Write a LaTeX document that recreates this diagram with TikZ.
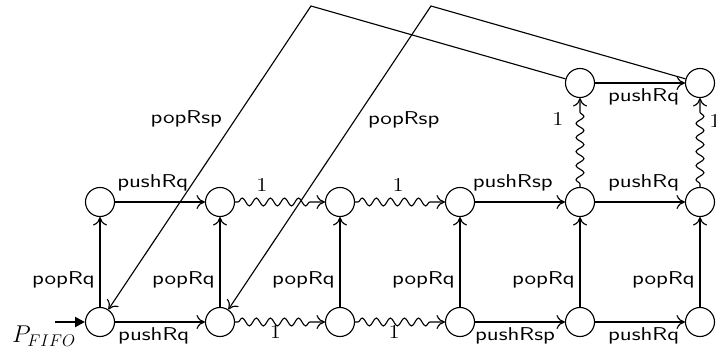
\documentclass[tikz,border=0pt]{standalone}
\usepackage{fontspec}
\usepackage{graphicx}
\usetikzlibrary{arrows.meta,decorations.pathmorphing}
\newcommand{\widetxt}[1]{\scalebox{1.27}[1]{#1}}
\newcommand{\wideone}{\scalebox{1.15}[1]{1}}
\begin{document}
\begin{tikzpicture}[x=0.025cm,y=-0.025cm,
  st/.style={circle,draw,line width=0.8pt,minimum size=0.725cm,inner sep=0pt},
  lab/.style={font=\fontsize{13.2}{15}\sffamily},
  one/.style={font=\fontsize{14}{16}\selectfont},
  e/.style={draw,line width=0.8pt,-{To[length=6pt,width=10pt]}},
  wavy/.style={e,decorate,decoration={snake,amplitude=2.8pt,segment length=10pt,pre length=2pt,post length=7pt}},
  entry/.style={draw,line width=1.6pt,-{Triangle[length=7pt,width=7pt]}}]
\useasboundingbox (0,0) rectangle (716,354);
\foreach \i/\x in {1/100,2/220,3/340,4/460,5/580,6/700}{
  \node[st] (b\i) at (\x,322) {};
  \node[st] (t\i) at (\x,202) {};
}
\node[st] (u5) at (580,83) {};
\node[st] (u6) at (700,83) {};
\coordinate (k1) at (311,6);
\coordinate (k2) at (431,6);
\coordinate (pin) at (55,322);
\node[font=\fontsize{18}{20}\selectfont,inner sep=0pt] (pf) at (44,336) {$P_{FIFO}$};
\foreach \i in {1,...,6}{
  \draw[e] (b\i) -- node[lab,pos=0.3,left]{\widetxt{popRq}} (t\i);
}
\draw[e] (t1) -- node[lab,pos=0.42,above=4pt]{\widetxt{pushRq}} (t2);
\draw[e] (b1) -- node[lab,pos=0.43,below]{\widetxt{pushRq}} (b2);
\draw[wavy] (t2) -- node[one,pos=0.3,above=3.5pt]{\wideone} (t3);
\draw[wavy] (t3) -- node[one,pos=0.48,above=3.5pt]{\wideone} (t4);
\draw[wavy] (b2) -- node[one,pos=0.45,below=-1pt]{\wideone} (b3);
\draw[wavy] (b3) -- node[one,pos=0.435,below=-1pt]{\wideone} (b4);
\draw[e] (t4) -- node[lab,pos=0.42,above=4pt]{\widetxt{pushRsp}} (t5);
\draw[e] (b4) -- node[lab,pos=0.445,below]{\widetxt{pushRsp}} (b5);
\draw[e] (t5) -- node[lab,pos=0.54,above=4pt]{\widetxt{pushRq}} (t6);
\draw[e] (b5) -- node[lab,pos=0.54,below]{\widetxt{pushRq}} (b6);
\draw[wavy] (t5) -- node[one,pos=0.76,left=8pt]{\wideone} (u5);
\draw[wavy] (t6) -- node[one,pos=0.74,right=3pt]{\wideone} (u6);
\draw[e] (u5) -- node[lab,pos=0.54,below]{\widetxt{pushRq}} (u6);
\draw[e] (u5) -- (k1) -- node[lab,pos=0.372,left=6pt]{\widetxt{popRsp}} (b1);
\draw[e] (u6) -- (k2) -- node[lab,pos=0.375,right=5.5pt]{\widetxt{popRsp}} (b2);
\draw[entry] (pin) -- (b1);
\end{tikzpicture}
\end{document}
